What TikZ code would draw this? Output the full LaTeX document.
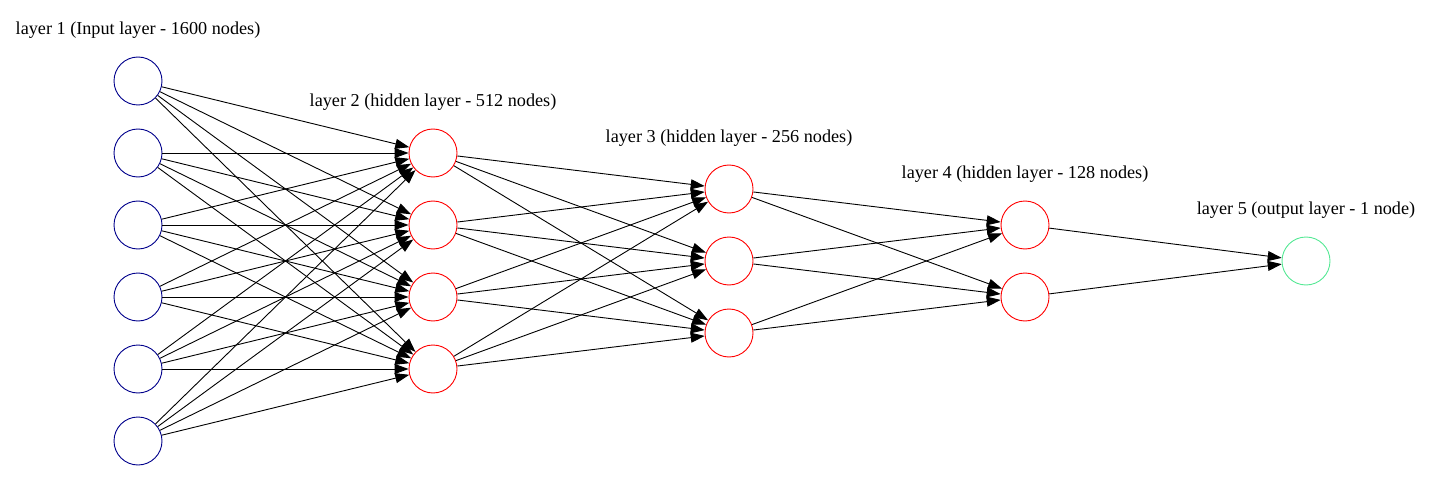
\documentclass[tikz,border=0pt]{standalone}
\usepackage{fontspec}
\setmainfont{Liberation Serif}
\usetikzlibrary{arrows.meta}
\definecolor{inblue}{RGB}{0,0,139}
\definecolor{hidred}{RGB}{255,0,0}
\definecolor{outgreen}{RGB}{84,232,148}

\begin{document}
\begin{tikzpicture}[x=1pt,y=-1pt,>={Triangle[length=14pt,width=10pt]},
  neuron/.style={circle,draw,minimum size=48pt,inner sep=0pt,line width=0.9pt},
  inneuron/.style={neuron,draw=inblue},
  hidneuron/.style={neuron,draw=hidred},
  outneuron/.style={neuron,draw=outgreen},
  layerlabel/.style={font=\fontsize{18.2}{21}\selectfont},
  link/.style={->,line width=0.9pt}]
\useasboundingbox (0,0) rectangle (1433,492);

% neurons
\foreach \i in {1,...,6} \node[inneuron] (a\i) at (138,{9+72*\i}) {};
\foreach \i in {1,...,4} \node[hidneuron] (b\i) at (433,{81+72*\i}) {};
\foreach \i in {1,...,3} \node[hidneuron] (c\i) at (729,{117+72*\i}) {};
\foreach \i in {1,...,2} \node[hidneuron] (d\i) at (1025,{153+72*\i}) {};
\node[outneuron] (e1) at (1306,261) {};

% layer names
\node[layerlabel] (l1) at (138,30) {layer 1 (Input layer - 1600 nodes)};
\node[layerlabel] (l2) at (433,102) {layer 2 (hidden layer - 512 nodes)};
\node[layerlabel] (l3) at (729,138) {layer 3 (hidden layer - 256 nodes)};
\node[layerlabel] (l4) at (1025,174) {layer 4 (hidden layer - 128 nodes)};
\node[layerlabel] (l5) at (1306,210) {layer 5 (output layer - 1 node)};

% connections
\foreach \i in {1,...,6} \foreach \j in {1,...,4} \draw[link] (a\i) -- (b\j);
\foreach \i in {1,...,4} \foreach \j in {1,...,3} \draw[link] (b\i) -- (c\j);
\foreach \i in {1,...,3} \foreach \j in {1,...,2} \draw[link] (c\i) -- (d\j);
\foreach \i in {1,...,2} \draw[link] (d\i) -- (e1);
\end{tikzpicture}
\end{document}
